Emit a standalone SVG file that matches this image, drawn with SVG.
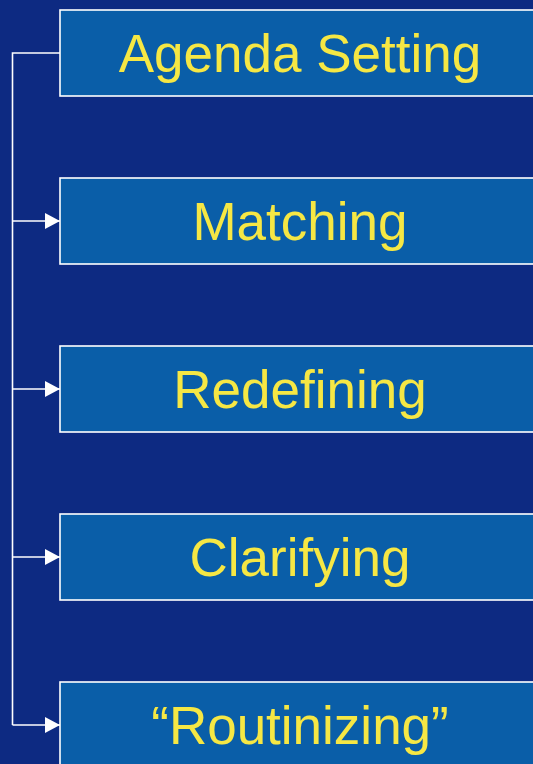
<svg xmlns="http://www.w3.org/2000/svg" width="533" height="764" viewBox="0 0 533 764">
  <defs>
    <marker id="arrow" markerWidth="16" markerHeight="16" refX="15" refY="8" orient="auto" markerUnits="userSpaceOnUse">
      <path d="M0,0 L15,8 L0,16 Z" fill="#ffffff"/>
    </marker>
    <style>
      .step { fill: #0a5ea8; stroke: #ffffff; stroke-width: 1.6; }
      .label { font-family: "Liberation Sans", Arial, sans-serif; font-size: 53px; fill: #f6e744; text-anchor: middle; }
      .link { fill: none; stroke: #ffffff; stroke-width: 1.6; }
    </style>
  </defs>

  <rect x="0" y="0" width="533" height="764" fill="#0d2a82"/>

  <g id="connectors">
    <path class="link" d="M60,53 H12.5 V725"/>
    <path class="link" d="M12.5,221 H60" marker-end="url(#arrow)"/>
    <path class="link" d="M12.5,389 H60" marker-end="url(#arrow)"/>
    <path class="link" d="M12.5,557 H60" marker-end="url(#arrow)"/>
    <path class="link" d="M12.5,725 H60" marker-end="url(#arrow)"/>
  </g>

  <g id="agenda-setting">
    <rect class="step" x="60" y="10" width="490" height="86"/>
    <text class="label" x="300" y="72">Agenda Setting</text>
  </g>
  <g id="matching">
    <rect class="step" x="60" y="178" width="490" height="86"/>
    <text class="label" x="300" y="240">Matching</text>
  </g>
  <g id="redefining">
    <rect class="step" x="60" y="346" width="490" height="86"/>
    <text class="label" x="300" y="408">Redefining</text>
  </g>
  <g id="clarifying">
    <rect class="step" x="60" y="514" width="490" height="86"/>
    <text class="label" x="300" y="576">Clarifying</text>
  </g>
  <g id="routinizing">
    <rect class="step" x="60" y="682" width="490" height="86"/>
    <text class="label" x="300" y="744">“Routinizing”</text>
  </g>
</svg>
